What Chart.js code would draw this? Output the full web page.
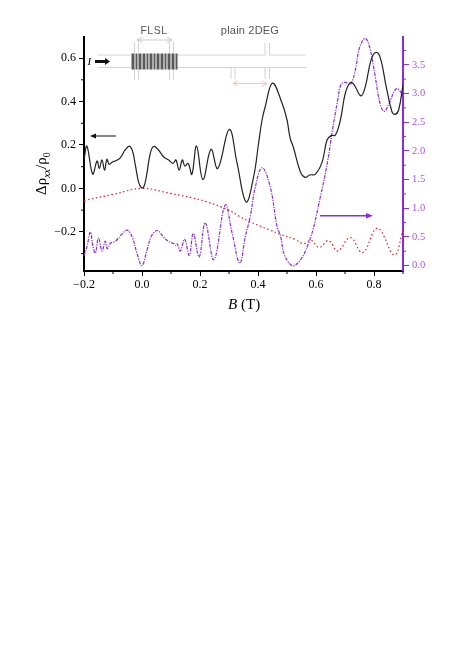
<!DOCTYPE html>
<html>
<head>
<meta charset="utf-8">
<title>Magnetoresistance</title>
<script src="https://cdn.jsdelivr.net/npm/chart.js@4"></script>
<style>
  html, body { margin: 0; padding: 0; background: #fff; }
  canvas { display: block; }
</style>
</head>
<body>
<canvas id="myChart" width="463" height="664"></canvas>
<script>
// black curve, left axis
const blackB = [-0.2, -0.19, -0.17, -0.155, -0.147, -0.138, -0.129, -0.121, -0.113, -0.101, -0.092, -0.075, -0.058, -0.043, -0.032, -0.023, -0.012, -0.002, 0.006, 0.015, 0.025, 0.033, 0.042, 0.057, 0.074, 0.092, 0.107, 0.117, 0.128, 0.139, 0.148, 0.159, 0.172, 0.188, 0.21, 0.238, 0.261, 0.301, 0.328, 0.359, 0.385, 0.402, 0.414, 0.425, 0.45, 0.483, 0.5, 0.511, 0.523, 0.546, 0.563, 0.578, 0.598, 0.621, 0.638, 0.652, 0.667, 0.684, 0.701, 0.718, 0.73, 0.755, 0.77, 0.79, 0.807, 0.822, 0.842, 0.862, 0.873, 0.885, 0.9];
const blackRho = [0.131, 0.195, 0.066, 0.126, 0.092, 0.131, 0.084, 0.134, 0.111, 0.123, 0.126, 0.141, 0.177, 0.195, 0.169, 0.108, 0.03, 0.003, 0.007, 0.054, 0.138, 0.181, 0.194, 0.177, 0.146, 0.131, 0.115, 0.131, 0.084, 0.131, 0.103, 0.115, 0.065, 0.195, 0.041, 0.18, 0.092, 0.272, 0.115, -0.062, 0.054, 0.208, 0.315, 0.377, 0.485, 0.392, 0.315, 0.231, 0.185, 0.077, 0.051, 0.062, 0.066, 0.121, 0.223, 0.243, 0.246, 0.315, 0.438, 0.487, 0.48, 0.426, 0.469, 0.592, 0.626, 0.6, 0.469, 0.353, 0.341, 0.361, 0.477];

// red dotted curve, left axis
const redB = [-0.2, -0.098, 0, 0.098, 0.172, 0.224, 0.294, 0.339, 0.373, 0.442, 0.477, 0.529, 0.557, 0.583, 0.611, 0.643, 0.675, 0.718, 0.761, 0.812, 0.87, 0.9];
const redRho = [-0.055, -0.027, 0, -0.023, -0.043, -0.062, -0.097, -0.131, -0.154, -0.192, -0.211, -0.235, -0.254, -0.239, -0.272, -0.24, -0.288, -0.226, -0.295, -0.183, -0.306, -0.192];

// purple dash-dot curve, right axis
const purpleB = [-0.2, -0.19, -0.178, -0.17, -0.161, -0.15, -0.138, -0.127, -0.12, -0.109, -0.092, -0.069, -0.051, -0.034, -0.017, 0, 0.017, 0.034, 0.053, 0.074, 0.092, 0.109, 0.115, 0.121, 0.132, 0.147, 0.163, 0.177, 0.197, 0.218, 0.248, 0.287, 0.311, 0.337, 0.356, 0.373, 0.391, 0.414, 0.442, 0.466, 0.477, 0.494, 0.526, 0.574, 0.615, 0.642, 0.655, 0.675, 0.686, 0.701, 0.718, 0.736, 0.75, 0.77, 0.787, 0.804, 0.822, 0.836, 0.85, 0.877, 0.894, 0.9];
const purpleVal = [0.168, 0.325, 0.586, 0.355, 0.22, 0.486, 0.255, 0.425, 0.297, 0.39, 0.425, 0.548, 0.618, 0.5, 0.21, 0.002, 0.268, 0.53, 0.612, 0.5, 0.42, 0.385, 0.355, 0.385, 0.255, 0.46, 0.18, 0.56, 0.15, 0.745, 0.105, 1.055, 0.56, 0.045, 0.5, 0.85, 1.375, 1.706, 1.375, 0.675, 0.53, 0.15, 0.0, 0.385, 1.2, 1.872, 2.31, 2.892, 3.155, 3.195, 3.155, 3.417, 3.797, 3.96, 3.767, 3.3, 2.805, 2.688, 2.805, 3.085, 3.01, 2.927];

const xTicks = [-0.2, 0, 0.2, 0.4, 0.6, 0.8];
const xTickLabels = ['\u22120.2', '0.0', '0.2', '0.4', '0.6', '0.8'];
const xMinor = [-0.1, 0.1, 0.3, 0.5, 0.7, 0.9];
const leftTicks = [-0.2, 0, 0.2, 0.4, 0.6];
const leftTickLabels = ['\u22120.2', '0.0', '0.2', '0.4', '0.6'];
const leftMinor = [-0.3, -0.1, 0.1, 0.3, 0.5];
const rightTicks = [0, 0.5, 1, 1.5, 2, 2.5, 3, 3.5];
const rightTickLabels = ['0.0', '0.5', '1.0', '1.5', '2.0', '2.5', '3.0', '3.5'];
const rightMinor = [0.25, 0.75, 1.25, 1.75, 2.25, 2.75, 3.25, 3.75];

const PURPLE = '#8a2be2';
const SERIF = '"Liberation Serif", serif';
const SANS = '"Liberation Sans", sans-serif';

function toPoints(xs, ys) {
    return xs.map((x, i) => ({ x: x, y: ys[i] }));
}

function arrowHead(c, x, y, dir, len, half) {
    c.moveTo(x - dir * len, y - half);
    c.lineTo(x, y);
    c.lineTo(x - dir * len, y + half);
}

function doubleArrow(c, x1, x2, y, color) {
    c.strokeStyle = color;
    c.lineWidth = 0.8;
    c.beginPath();
    c.moveTo(x1, y);
    c.lineTo(x2, y);
    arrowHead(c, x1, y, -1, 5, 2.5);
    arrowHead(c, x2, y, 1, 5, 2.5);
    c.stroke();
}

function hline(c, x1, x2, y) {
    c.beginPath();
    c.moveTo(x1, y);
    c.lineTo(x2, y);
    c.stroke();
}

function vline(c, x, y1, y2) {
    c.beginPath();
    c.moveTo(x, y1);
    c.lineTo(x, y2);
    c.stroke();
}

// minor ticks, Chart.js has no per-tick length
const minorTicks = {
    id: 'minorTicks',
    afterDraw(chart) {
        const c = chart.ctx;
        const s = chart.scales;
        c.save();
        c.lineWidth = 1;
        c.strokeStyle = '#000';
        xMinor.forEach(v => vline(c, s.x.getPixelForValue(v), s.x.top, s.x.top + 3));
        leftMinor.forEach(v => hline(c, s.y.right - 3, s.y.right, s.y.getPixelForValue(v)));
        c.strokeStyle = PURPLE;
        rightMinor.forEach(v => hline(c, s.y2.left, s.y2.left + 3, s.y2.getPixelForValue(v)));
        c.restore();
    }
};

// axis titles, device sketch and the arrows
const overlay = {
    id: 'overlay',
    afterDraw(chart) {
        const c = chart.ctx;
        c.save();
        c.textBaseline = 'alphabetic';

        // y title
        c.save();
        c.translate(46, 195);
        c.rotate(-Math.PI / 2);
        c.fillStyle = '#000';
        let x = 0;
        const run = (t, font, dy) => {
            c.font = font;
            c.fillText(t, x, dy);
            x += c.measureText(t).width;
        };
        run('\u0394\u03c1', '15px ' + SERIF, 0);
        run('xx', 'italic 10px ' + SERIF, 4);
        run('/\u03c1', '15px ' + SERIF, 0);
        run('0', '10px ' + SERIF, 4);
        c.restore();

        // x title
        c.fillStyle = '#000';
        c.font = 'italic 15px ' + SERIF;
        c.fillText('B', 228, 309);
        c.font = '15px ' + SERIF;
        c.fillText('(T)', 241, 309);

        // sketch of the sample
        c.strokeStyle = '#d4d4d4';
        c.lineWidth = 1;
        hline(c, 98, 131, 55);
        hline(c, 98, 131, 67.5);
        hline(c, 177, 265, 55);
        hline(c, 269.5, 306, 55);
        hline(c, 177, 306, 67.5);
        [134.5, 138.5, 169.5, 173.5].forEach(px => {
            vline(c, px, 42, 53);
            vline(c, px, 69, 80);
        });
        [265, 269.5].forEach(px => {
            vline(c, px, 43, 55);
            vline(c, px, 67.5, 79);
        });
        [231, 235].forEach(px => vline(c, px, 67.5, 79));

        const barWidths = [3, 2, 3, 3, 2, 3, 2, 3, 3, 2, 3, 3, 2];
        c.fillStyle = '#5a5a5a';
        let bx = 131.5;
        barWidths.forEach(w => {
            c.fillRect(bx, 53.5, w, 16);
            bx += w + 1;
        });

        doubleArrow(c, 137, 172, 40, '#bdbdbd');
        doubleArrow(c, 233, 267, 83.5, '#f8b79c');

        c.fillStyle = '#555';
        c.textAlign = 'center';
        c.font = '10.5px ' + SANS;
        c.letterSpacing = '0.5px';
        c.fillText('FLSL', 154, 33.5);
        c.font = '11px ' + SANS;
        c.letterSpacing = '0.2px';
        c.fillText('plain 2DEG', 250, 33.5);
        c.letterSpacing = '0px';
        c.textAlign = 'left';

        c.fillStyle = '#000';
        c.font = 'italic 11px ' + SERIF;
        c.fillText('I', 87.5, 65);

        // current arrow
        c.strokeStyle = '#111';
        c.lineWidth = 3;
        hline(c, 95, 106, 61.5);
        c.fillStyle = '#111';
        c.beginPath();
        c.moveTo(110, 61.5);
        c.lineTo(105, 58);
        c.lineTo(105, 65);
        c.closePath();
        c.fill();

        // axis arrows
        c.lineWidth = 1;
        hline(c, 92, 116, 136);
        c.beginPath();
        c.moveTo(90, 136);
        c.lineTo(96, 133.5);
        c.lineTo(96, 138.5);
        c.closePath();
        c.fill();

        c.strokeStyle = PURPLE;
        c.fillStyle = PURPLE;
        c.lineWidth = 1.4;
        hline(c, 320, 368, 215.7);
        c.beginPath();
        c.moveTo(373, 215.7);
        c.lineTo(366, 213);
        c.lineTo(366, 218.4);
        c.closePath();
        c.fill();
        c.restore();
    }
};

new Chart(document.getElementById('myChart').getContext('2d'), {
    type: 'scatter',
    data: {
        datasets: [{
            label: 'black',
            data: toPoints(blackB, blackRho),
            yAxisID: 'y',
            showLine: true,
            borderColor: '#222',
            borderWidth: 1.2,
            pointRadius: 0,
            tension: 0.4
        }, {
            label: 'red',
            data: toPoints(redB, redRho),
            yAxisID: 'y',
            showLine: true,
            borderColor: '#f01818',
            borderWidth: 1.2,
            borderDash: [1.5, 2.5],
            pointRadius: 0,
            tension: 0.4
        }, {
            label: 'purple',
            data: toPoints(purpleB, purpleVal),
            yAxisID: 'y2',
            showLine: true,
            borderColor: PURPLE,
            borderWidth: 1.2,
            borderDash: [3.5, 1.2, 1.2, 1.2],
            pointRadius: 0,
            tension: 0.4
        }]
    },
    options: {
        responsive: false,
        animation: false,
        layout: { padding: { top: 37, left: 0, right: 0, bottom: 0 } },
        plugins: { legend: { display: false }, tooltip: { enabled: false } },
        scales: {
            x: {
                type: 'linear',
                min: -0.2,
                max: 0.9,
                afterFit: s => { s.height = 393; },
                afterBuildTicks: s => { s.ticks = xTicks.map(v => ({ value: v })); },
                border: { color: '#000', width: 2 },
                grid: { drawOnChartArea: false, tickLength: 5, tickColor: '#000', tickWidth: 1 },
                ticks: {
                    callback: (v, i) => xTickLabels[i],
                    color: '#000',
                    font: { family: SERIF, size: 12 },
                    padding: 2,
                    maxRotation: 0,
                    autoSkip: false
                }
            },
            y: {
                position: 'left',
                min: -0.38,
                max: 0.697,
                afterFit: s => { s.width = 84; },
                afterBuildTicks: s => { s.ticks = leftTicks.map(v => ({ value: v })); },
                border: { color: '#000', width: 2 },
                grid: { drawOnChartArea: false, tickLength: 5, tickColor: '#000', tickWidth: 1 },
                ticks: {
                    callback: (v, i) => leftTickLabels[i],
                    color: '#000',
                    font: { family: SERIF, size: 12 },
                    padding: 3,
                    autoSkip: false
                }
            },
            y2: {
                position: 'right',
                min: -0.094,
                max: 3.986,
                afterFit: s => { s.width = 60; },
                afterBuildTicks: s => { s.ticks = rightTicks.map(v => ({ value: v })); },
                border: { color: PURPLE, width: 2 },
                grid: { drawOnChartArea: false, tickLength: 6, tickColor: PURPLE, tickWidth: 1 },
                ticks: {
                    callback: (v, i) => rightTickLabels[i],
                    color: '#a855f0',
                    font: { family: SERIF, size: 10.5 },
                    padding: 3,
                    autoSkip: false
                }
            }
        }
    },
    plugins: [minorTicks, overlay]
});
</script>
</body>
</html>
